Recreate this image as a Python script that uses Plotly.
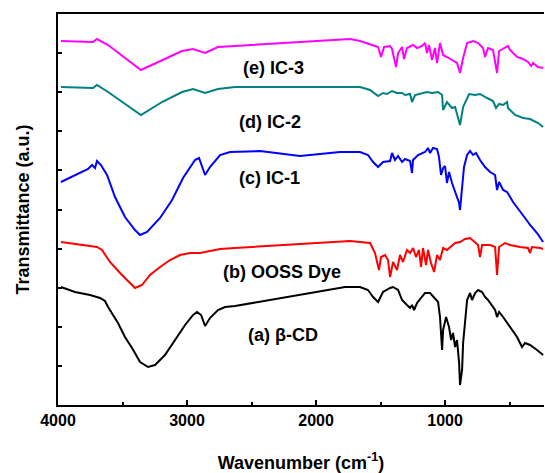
import plotly.graph_objects as go

# ---- data (wavenumber cm^-1, transmittance a.u.) ----
wn_e = [3977, 3729, 3698, 3612, 3357, 3194, 3039, 2953, 2860, 2760, 2628, 2201, 1736, 1659, 1558, 1519, 1496, 1473,
        1426, 1411, 1380, 1364, 1333, 1318, 1295, 1248, 1217, 1178, 1155, 1140, 1124, 1101, 1078, 1062, 1039, 1015,
        985, 946, 907, 884, 860, 829, 783, 744, 705, 690, 667, 628, 597, 581, 550, 512, 496, 442, 395, 357, 333,
        318, 279, 240]
t_e = [364, 363, 366, 360, 335, 345, 354, 356, 352, 358, 359, 362, 366, 364, 360, 358, 348, 358,
       359, 356, 338, 352, 358, 346, 357, 360, 357, 359, 362, 352, 360, 345, 357, 342, 362, 350,
       348, 345, 342, 332, 347, 362, 364, 362, 357, 348, 357, 355, 332, 354, 356, 359, 355, 348, 346, 343, 339,
       342, 338, 337]

wn_d = [3977, 3729, 3698, 3612, 3357, 3194, 3039, 2953, 2860, 2760, 2628, 1736, 1659, 1581, 1519, 1481, 1450, 1411,
        1372, 1333, 1310, 1271, 1256, 1232, 1178, 1140, 1101, 1054, 1023, 1015, 985, 946, 922, 899, 884, 860, 837,
        814, 767, 729, 674, 628, 605, 581, 550, 519, 512, 457, 395, 341, 279, 240]
t_d = [318, 317, 320, 313, 290, 303, 313, 316, 312, 316, 318, 318, 318, 315, 309, 312, 311, 314,
       312, 312, 310, 311, 303, 310, 312, 313, 312, 313, 310, 295, 303, 297, 298, 288, 280, 298, 305,
       311, 310, 311, 307, 304, 297, 301, 300, 303, 297, 290, 287, 286, 282, 278]

wn_c = [3977, 3868, 3767, 3736, 3713, 3698, 3667, 3620, 3558, 3481, 3403, 3364, 3310, 3209, 3116, 3031, 2938, 2907,
        2860, 2822, 2744, 2667, 2434, 2124, 1814, 1659, 1597, 1558, 1519, 1481, 1426, 1411, 1388, 1364, 1333, 1310,
        1271, 1256, 1248, 1209, 1178, 1155, 1132, 1116, 1093, 1062, 1047, 1031, 1015, 1000, 985, 969, 946, 922,
        891, 884, 868, 853, 829, 806, 783, 760, 729, 690, 651, 612, 597, 581, 550, 519, 473, 419, 380, 341, 287, 240]
t_c = [223, 230, 236, 240, 237, 244, 240, 230, 208, 188, 175, 170, 173, 187, 205, 227, 245, 247,
       230, 238, 250, 253, 254, 249, 253, 253, 250, 243, 238, 243, 244, 252, 245, 249, 243, 246,
       244, 232, 245, 250, 252, 253, 257, 252, 257, 256, 248, 230, 237, 239, 222, 233, 222, 213,
       202, 195, 218, 238, 250, 254, 250, 252, 245, 238, 233, 230, 215, 223, 215, 213, 203, 193, 187, 180, 172, 163]

wn_b = [3977, 3868, 3752, 3698, 3659, 3597, 3519, 3442, 3403, 3349, 3287, 3209, 3132, 3054, 2977, 2899, 2822, 2744,
        2628, 1736, 1659, 1581, 1543, 1512, 1496, 1465, 1442, 1426, 1403, 1372, 1349, 1326, 1295, 1271, 1248, 1225,
        1202, 1186, 1171, 1147, 1132, 1109, 1085, 1062, 1039, 1015, 985, 961, 922, 884, 845, 806, 767, 744, 729,
        713, 651, 612, 597, 581, 535, 496, 419, 357, 341, 326, 263, 240]
t_b = [163, 161, 159, 158, 155, 143, 132, 122, 117, 120, 130, 138, 145, 150, 152, 152, 154, 156,
       157, 164, 163, 162, 152, 135, 148, 150, 145, 128, 143, 135, 150, 143, 155, 152, 157, 148,
       155, 138, 157, 140, 155, 142, 133, 150, 145, 157, 155, 158, 162, 163, 166, 167, 162, 160, 148,
       160, 160, 158, 130, 158, 162, 160, 158, 157, 152, 158, 157, 156]

wn_a = [3977, 3868, 3752, 3674, 3636, 3612, 3535, 3481, 3426, 3364, 3302, 3248, 3171, 3093, 3015, 2953, 2922, 2891,
        2860, 2822, 2760, 2705, 2628, 1775, 1659, 1597, 1558, 1519, 1481, 1426, 1403, 1364, 1333, 1295, 1271, 1256,
        1240, 1217, 1186, 1155, 1116, 1085, 1054, 1039, 1023, 1015, 992, 969, 953, 938, 922, 907, 891, 884, 868,
        860, 845, 829, 806, 791, 767, 744, 713, 690, 667, 636, 612, 597, 581, 550, 519, 481, 442, 419, 403, 380,
        341, 287, 240]
t_a = [118, 113, 110, 107, 104, 98, 82, 68, 57, 43, 38, 40, 50, 65, 80, 90, 93, 90,
       79, 87, 95, 98, 99, 118, 118, 115, 108, 103, 113, 117, 118, 115, 105, 100, 97, 100,
       95, 102, 107, 112, 112, 108, 103, 88, 55, 75, 88, 78, 65, 72, 58, 65, 42, 20, 35,
       62, 85, 105, 112, 105, 112, 115, 113, 108, 105, 100, 95, 88, 93, 88, 82, 75, 68, 62, 58, 62,
       60, 55, 50]

series = [
    ("(a) β-CD", wn_a, t_a, "#000000"),
    ("(b) OOSS Dye", wn_b, t_b, "#FF0000"),
    ("(c) IC-1", wn_c, t_c, "#0000FF"),
    ("(d) IC-2", wn_d, t_d, "#008080"),
    ("(e) IC-3", wn_e, t_e, "#FF00FF"),
]

label_text = ["(e) IC-3", "(d) IC-2", "(c) IC-1", "(b) OOSS Dye", "(a) β-CD"]
label_wn = [2333, 2357, 2357, 2264, 2256]
label_t = [337, 283, 227, 133, 70]

x_ticks = [4000, 3000, 2000, 1000]

fig = go.Figure()
for name, x, y, c in series:
    fig.add_trace(go.Scatter(x=x, y=y, mode="lines", name=name,
                             line=dict(color=c, width=2), showlegend=False))

for txt, x, y in zip(label_text, label_wn, label_t):
    fig.add_annotation(x=x, y=y, text=f"<b>{txt}</b>", showarrow=False,
                       font=dict(family="Liberation Sans, Arial", size=18, color="black"))

fig.update_layout(
    width=545, height=473,
    margin=dict(l=58, r=1, t=14, b=68, autoexpand=False),
    paper_bgcolor="white", plot_bgcolor="white",
    font=dict(family="Liberation Sans, Arial", color="black"),
)
fig.update_xaxes(
    automargin=False,
    range=[4000, 233], tickvals=x_ticks, ticktext=[f"<b>{v}</b>" for v in x_ticks],
    tickfont=dict(size=16), ticks="inside", ticklen=5, tickwidth=1.5, tickcolor="black",
    minor=dict(dtick=500, tick0=0, ticks="inside", ticklen=3, tickcolor="black"),
    showline=True, linewidth=2, linecolor="black", mirror=True, showgrid=False, zeroline=False,
    title=dict(text="<b>Wavenumber (cm<sup>-1</sup>)</b>", font=dict(size=18), standoff=28),
)
fig.update_yaxes(
    automargin=False,
    range=[0, 391], tick0=0, dtick=39.1, showticklabels=False,
    ticks="inside", ticklen=4, tickwidth=1.5, tickcolor="black",
    showline=True, linewidth=2, linecolor="black", mirror=False, showgrid=False, zeroline=False,
    title=dict(text="<b>Transmittance (a.u.)</b>", font=dict(size=18), standoff=22),
)

fig.write_html(
    "out.html",
    config={"displayModeBar": False},
    post_script="document.body.style.margin='0';document.body.style.overflow='hidden';",
)
